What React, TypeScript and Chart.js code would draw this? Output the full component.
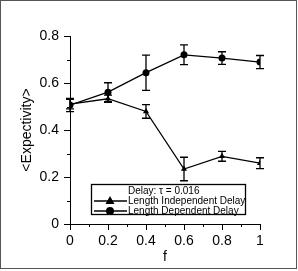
import React, { useEffect, useRef } from "react";
import { Chart, registerables } from "chart.js";

Chart.register(...registerables);

const fValues = [0, 0.2, 0.4, 0.6, 0.8, 1];
const independentMean = [0.51, 0.533, 0.479, 0.234, 0.288, 0.259];
const independentErr = [0.02, 0.015, 0.029, 0.05, 0.021, 0.023];
const dependentMean = [0.506, 0.561, 0.644, 0.72, 0.706, 0.689];
const dependentErr = [0.028, 0.04, 0.075, 0.042, 0.027, 0.028];
const yMinorTicks = [0.1, 0.3, 0.5, 0.7];
const xMinorTicks = [0.1, 0.3, 0.5, 0.7, 0.9];
const legendTitle = "Delay: \u03c4 = 0.016";
const seriesNames = ["Length Independent Delay", "Length Dependent Delay"];
const yTitle = "<Expectivity>";
const xTitle = "f";

const FONT = "'Liberation Sans', Arial, Helvetica, sans-serif";
const fmt = (v: any) => String(Number(Number(v).toFixed(1)));

const errorBarPlugin = {
  id: "errorBars",
  afterDatasetsDraw(chart: any) {
    const ctx = chart.ctx;
    const y = chart.scales.y;
    const errs = [independentErr, dependentErr];
    ctx.save();
    ctx.strokeStyle = "#000";
    ctx.lineWidth = 1.3;
    chart.data.datasets.forEach((ds: any, di: number) => {
      const meta = chart.getDatasetMeta(di);
      meta.data.forEach((pt: any, i: number) => {
        const v = ds.data[i].y;
        const e = errs[di][i];
        const x = pt.x;
        const y1 = y.getPixelForValue(v + e);
        const y2 = y.getPixelForValue(v - e);
        ctx.beginPath();
        ctx.moveTo(x, y1);
        ctx.lineTo(x, y2);
        ctx.moveTo(x - 4, y1);
        ctx.lineTo(x + 4, y1);
        ctx.moveTo(x - 4, y2);
        ctx.lineTo(x + 4, y2);
        ctx.stroke();
      });
    });
    ctx.restore();
  },
};

const minorTickPlugin = {
  id: "minorTicks",
  afterDraw(chart: any) {
    const ctx = chart.ctx;
    const { x, y } = chart.scales;
    const area = chart.chartArea;
    ctx.save();
    ctx.strokeStyle = "#000";
    ctx.lineWidth = 1;
    ctx.beginPath();
    yMinorTicks.forEach((v) => {
      const py = Math.round(y.getPixelForValue(v)) + 0.5;
      ctx.moveTo(area.left - 3, py);
      ctx.lineTo(area.left, py);
    });
    xMinorTicks.forEach((v) => {
      const px = Math.round(x.getPixelForValue(v)) + 0.5;
      ctx.moveTo(px, area.bottom);
      ctx.lineTo(px, area.bottom + 3);
    });
    ctx.stroke();
    ctx.restore();
  },
};

const legendPlugin = {
  id: "boxLegend",
  afterDraw(chart: any) {
    const ctx = chart.ctx;
    const bx = 91.5, by = 184.5, bw = 154, bh = 30;
    ctx.save();
    ctx.fillStyle = "#fff";
    ctx.fillRect(bx, by, bw, bh);
    ctx.strokeStyle = "#000";
    ctx.lineWidth = 1.3;
    ctx.strokeRect(bx, by, bw, bh);
    ctx.fillStyle = "#000";
    ctx.font = `10px ${FONT}`;
    ctx.textBaseline = "middle";
    ctx.textAlign = "left";
    ctx.fillText(legendTitle, 128, 191);
    seriesNames.forEach((name, i) => {
      const ly = 201 + i * 10;
      ctx.beginPath();
      ctx.lineWidth = 1.3;
      ctx.moveTo(94, ly);
      ctx.lineTo(127, ly);
      ctx.stroke();
      ctx.beginPath();
      if (i === 0) {
        ctx.moveTo(110, ly - 5);
        ctx.lineTo(114.5, ly + 3);
        ctx.lineTo(105.5, ly + 3);
        ctx.closePath();
      } else {
        ctx.arc(110, ly, 4, 0, Math.PI * 2);
      }
      ctx.fill();
      ctx.fillText(name, 128, ly);
    });
    ctx.restore();
  },
};

const framePlugin = {
  id: "frame",
  afterDraw(chart: any) {
    const ctx = chart.ctx;
    ctx.save();
    ctx.strokeStyle = "#555";
    ctx.lineWidth = 1;
    ctx.strokeRect(0.5, 0.5, 296, 268);
    ctx.restore();
  },
};

export default function App() {
  const ref = useRef<HTMLCanvasElement | null>(null);
  useEffect(() => {
    if (!ref.current) return;
    const chart = new Chart(ref.current, {
      type: "line",
      data: {
        datasets: [
          {
            label: seriesNames[0],
            data: fValues.map((f, i) => ({ x: f, y: independentMean[i] })),
            borderColor: "#000",
            backgroundColor: "#000",
            borderWidth: 1.3,
            pointStyle: "triangle",
            pointRadius: 3.5,
            pointBorderWidth: 0,
            tension: 0,
          },
          {
            label: seriesNames[1],
            data: fValues.map((f, i) => ({ x: f, y: dependentMean[i] })),
            borderColor: "#000",
            backgroundColor: "#000",
            borderWidth: 1.3,
            pointStyle: "circle",
            pointRadius: 3.5,
            pointBorderWidth: 0,
            tension: 0,
          },
        ],
      },
      options: {
        animation: false,
        responsive: false,
        layout: { padding: { left: 0, top: 36, right: 38, bottom: 0 } },
        plugins: { legend: { display: false }, tooltip: { enabled: false } },
        scales: {
          x: {
            type: "linear",
            min: 0,
            max: 1,
            ticks: { stepSize: 0.2, color: "#000", font: { family: FONT, size: 14 }, padding: 3, maxRotation: 0, callback: fmt },
            grid: { drawOnChartArea: false, drawTicks: true, tickLength: 6, color: "#000", tickColor: "#000" },
            border: { display: true, color: "#000", width: 1 },
            title: { display: true, text: xTitle, color: "#000", font: { family: FONT, size: 14 }, padding: { top: 0, bottom: 5 } },
            afterFit: (s: any) => { s.height = 47; },
          },
          y: {
            type: "linear",
            min: 0,
            max: 0.8,
            ticks: { stepSize: 0.2, color: "#000", font: { family: FONT, size: 14 }, padding: 5, callback: fmt },
            grid: { drawOnChartArea: false, drawTicks: true, tickLength: 6, color: "#000", tickColor: "#000" },
            border: { display: true, color: "#000", width: 1 },
            title: { display: true, text: yTitle, color: "#000", font: { family: FONT, size: 14 }, padding: { top: 19, bottom: 0 } },
            afterFit: (s: any) => { s.width = 70; },
          },
        },
      },
      plugins: [errorBarPlugin, minorTickPlugin, legendPlugin, framePlugin],
    } as any);
    return () => chart.destroy();
  }, []);
  return (
    <div style={{ position: "fixed", left: 0, top: 0, width: 298, height: 271, background: "#fff" }}>
      <canvas ref={ref} width={298} height={271} style={{ display: "block", width: 298, height: 271 }} />
    </div>
  );
}
